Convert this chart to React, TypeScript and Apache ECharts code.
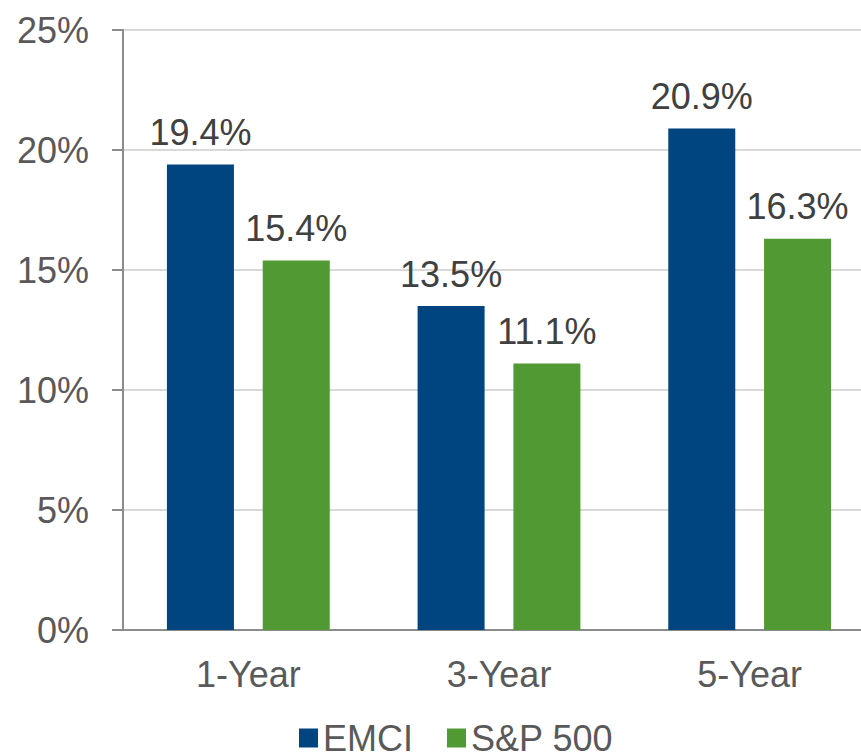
import React, { useEffect, useRef } from "react";
import * as echarts from "echarts";

const categories = ["1-Year", "3-Year", "5-Year"];
const emci = [19.4, 13.5, 20.9];
const sp500 = [15.4, 11.1, 16.3];
const seriesNames = ["EMCI", "S&P 500"];

const FONT = "'Liberation Sans', Arial, sans-serif";

export default function App() {
  const ref = useRef<HTMLDivElement>(null);
  useEffect(() => {
    if (!ref.current) return;
    const chart = echarts.init(ref.current, undefined, { renderer: "svg" });
    const label = {
      show: true,
      position: "top",
      distance: 14,
      fontSize: 36,
      fontFamily: FONT,
      color: "#404040",
      formatter: (p: any) => p.value.toFixed(1) + "%",
    };
    chart.setOption({
      animation: false,
      backgroundColor: "#ffffff",
      textStyle: { fontFamily: FONT },
      grid: { left: 123, top: 30, height: 600, width: 752, containLabel: false },
      legend: {
        left: 294,
        top: 715,
        itemWidth: 19,
        itemHeight: 19,
        itemGap: 34,
        icon: "rect",
        textStyle: { fontSize: 36, fontFamily: FONT, color: "#595959" },
        data: seriesNames,
      },
      xAxis: {
        type: "category",
        data: categories,
        axisLine: { lineStyle: { color: "#8c8c8c", width: 2 } },
        axisTick: { show: false },
        axisLabel: { fontSize: 36, fontFamily: FONT, color: "#595959", margin: 26 },
      },
      yAxis: {
        type: "value",
        min: 0,
        max: 25,
        interval: 5,
        axisLine: { show: true, lineStyle: { color: "#8c8c8c", width: 2 } },
        axisTick: { show: true, length: 11, lineStyle: { color: "#8c8c8c", width: 2 } },
        splitLine: { lineStyle: { color: "#d9d9d9", width: 2 } },
        axisLabel: {
          fontSize: 36,
          fontFamily: FONT,
          color: "#595959",
          margin: 34,
          formatter: "{value}%",
        },
      },
      series: [
        {
          name: seriesNames[0],
          type: "bar",
          data: emci,
          barWidth: 67,
          barGap: "43%",
          itemStyle: { color: "#004580" },
          label,
        },
        {
          name: seriesNames[1],
          type: "bar",
          data: sp500,
          barWidth: 67,
          itemStyle: { color: "#509933" },
          label,
        },
      ],
    });
    return () => chart.dispose();
  }, []);
  return (
    <div
      style={{
        position: "absolute",
        left: 0,
        top: 0,
        width: 861,
        height: 754,
        overflow: "hidden",
        background: "#ffffff",
      }}
    >
      <div ref={ref} style={{ width: 880, height: 754 }} />
    </div>
  );
}
